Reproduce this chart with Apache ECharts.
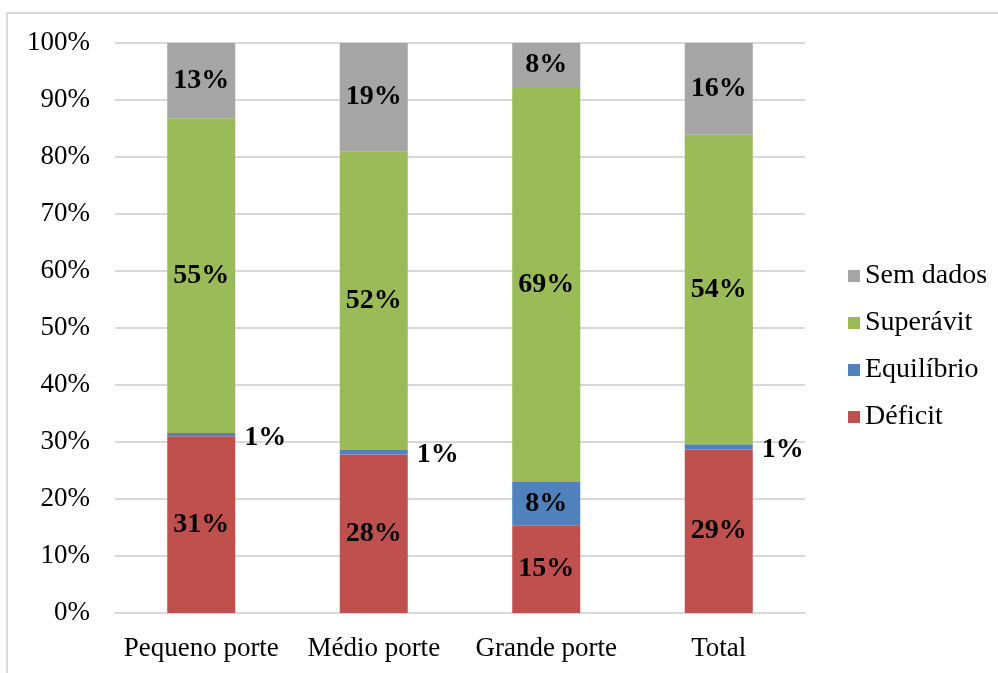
<!DOCTYPE html>
<html>
<head>
<meta charset="utf-8">
<script src="https://cdn.jsdelivr.net/npm/echarts@6/dist/echarts.min.js"></script>
<style>
  html, body { margin: 0; padding: 0; background: #fff; }
  #chart { width: 998px; height: 673px; }
</style>
</head>
<body>
<div id="chart"></div>
<script>
const categories = ["Pequeno porte", "Médio porte", "Grande porte", "Total"]
const deficit = [31.0, 27.8, 15.4, 28.7]
const equilibrio = [0.6, 0.8, 7.6, 0.9]
const superavit = [55.2, 52.4, 69.3, 54.3]
const semDados = [13.2, 19.0, 7.7, 16.1]
const yTicks = [0, 10, 20, 30, 40, 50, 60, 70, 80, 90, 100]

const FONT = "'Liberation Serif', 'Times New Roman', serif"

const chart = echarts.init(document.getElementById("chart"))

const labelStyle = {
  show: true,
  fontFamily: FONT,
  fontSize: 28,
  fontWeight: "bold",
  color: "#000",
  formatter: p => Math.round(p.value) + "%",
}

// small equilibrium shares sit to the right of the bar
const equilibrioData = equilibrio.map(v => ({
  value: v,
  label: v < 3 ? { position: "right", distance: 9, offset: [0, 3] } : { position: "inside" },
}))

function barSeries(name, data, color) {
  return {
    name,
    type: "bar",
    stack: "total",
    barWidth: 68,
    data,
    itemStyle: { color },
    label: { ...labelStyle, position: "inside" },
  }
}

chart.setOption({
  animation: false,
  graphic: [{
    type: "rect",
    shape: { x: 7, y: 13, width: 1010, height: 680 },
    style: { fill: "none", stroke: "#d9d9d9", lineWidth: 2 },
  }],
  grid: { left: 115, right: 193, top: 43, bottom: 60 },
  legend: {
    orient: "vertical",
    left: 843,
    top: 257,
    itemWidth: 12,
    itemHeight: 12,
    itemGap: 19,
    icon: "rect",
    data: ["Sem dados", "Superávit", "Equilíbrio", "Déficit"],
    textStyle: { fontFamily: FONT, fontSize: 28, color: "#000" },
  },
  xAxis: {
    type: "category",
    data: categories,
    axisTick: { show: false },
    axisLine: { lineStyle: { color: "#d9d9d9", width: 2 } },
    axisLabel: { fontFamily: FONT, fontSize: 27, color: "#000", margin: 22, interval: 0, hideOverlap: false },
  },
  yAxis: {
    type: "value",
    min: yTicks[0],
    max: yTicks[yTicks.length - 1],
    interval: 10,
    axisLine: { show: false },
    axisTick: { show: false },
    splitLine: { lineStyle: { color: "#d9d9d9", width: 2 } },
    axisLabel: { fontFamily: FONT, fontSize: 27, color: "#000", margin: 25, formatter: "{value}%" },
  },
  series: [
    barSeries("Déficit", deficit, "#c0504d"),
    barSeries("Equilíbrio", equilibrioData, "#4f81bd"),
    barSeries("Superávit", superavit, "#9bbb59"),
    barSeries("Sem dados", semDados, "#a5a5a5"),
  ],
})
</script>
</body>
</html>
